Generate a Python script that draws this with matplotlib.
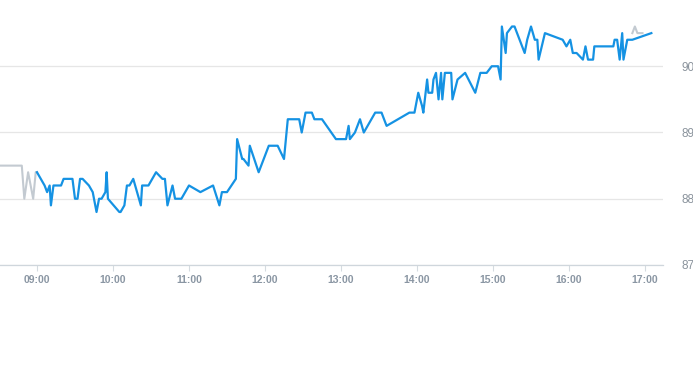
import matplotlib
matplotlib.use('Agg')
import matplotlib.pyplot as plt

# pre-market (grey) prices
pre_times = ['08:25', '08:48', '08:50', '08:53', '08:57', '08:59', '09:00']
pre_prices = [88.5, 88.5, 88.0, 88.4, 88.0, 88.4, 88.4]

# trading session (blue) prices
times = ['09:00', '09:06', '09:08', '09:10', '09:11', '09:13', '09:19', '09:21', '09:28', '09:30',
         '09:32', '09:34', '09:36', '09:41', '09:44', '09:47', '09:49', '09:51', '09:54', '09:55',
         '09:56', '10:05', '10:06', '10:09', '10:11', '10:13', '10:16', '10:22', '10:23', '10:28',
         '10:34', '10:39', '10:41', '10:43', '10:47', '10:49', '10:54', '11:00', '11:09', '11:19',
         '11:24', '11:26', '11:30', '11:37', '11:38', '11:42', '11:43', '11:47', '11:48', '11:55',
         '12:03', '12:10', '12:15', '12:18', '12:27', '12:29', '12:32', '12:37', '12:39', '12:45',
         '12:56', '13:04', '13:06', '13:07', '13:11', '13:15', '13:18', '13:27', '13:32', '13:36',
         '13:54', '13:58', '14:01', '14:04', '14:05', '14:08', '14:09', '14:12', '14:13', '14:15',
         '14:17', '14:19', '14:20', '14:22', '14:27', '14:28', '14:32', '14:38', '14:46', '14:50',
         '14:55', '14:59', '15:04', '15:06', '15:07', '15:10', '15:11', '15:15', '15:17', '15:25',
         '15:27', '15:30', '15:33', '15:35', '15:36', '15:41', '15:55', '15:58', '16:01', '16:03',
         '16:06', '16:11', '16:13', '16:15', '16:19', '16:20', '16:35', '16:36', '16:38', '16:40',
         '16:42', '16:43', '16:46', '16:50', '17:05']
prices = [88.4, 88.2, 88.1, 88.2, 87.9, 88.2, 88.2, 88.3, 88.3, 88.0,
          88.0, 88.3, 88.3, 88.2, 88.1, 87.8, 88.0, 88.0, 88.1, 88.4,
          88.0, 87.8, 87.8, 87.9, 88.2, 88.2, 88.3, 87.9, 88.2, 88.2,
          88.4, 88.3, 88.3, 87.9, 88.2, 88.0, 88.0, 88.2, 88.1, 88.2,
          87.9, 88.1, 88.1, 88.3, 88.9, 88.6, 88.6, 88.5, 88.8, 88.4,
          88.8, 88.8, 88.6, 89.2, 89.2, 89.0, 89.3, 89.3, 89.2, 89.2,
          88.9, 88.9, 89.1, 88.9, 89.0, 89.2, 89.0, 89.3, 89.3, 89.1,
          89.3, 89.3, 89.6, 89.4, 89.3, 89.8, 89.6, 89.6, 89.8, 89.9,
          89.5, 89.9, 89.5, 89.9, 89.9, 89.5, 89.8, 89.9, 89.6, 89.9,
          89.9, 90.0, 90.0, 89.8, 90.6, 90.2, 90.5, 90.6, 90.6, 90.2,
          90.4, 90.6, 90.4, 90.4, 90.1, 90.5, 90.4, 90.3, 90.4, 90.2,
          90.2, 90.1, 90.3, 90.1, 90.1, 90.3, 90.3, 90.4, 90.4, 90.1,
          90.5, 90.1, 90.4, 90.4, 90.5]

# after-hours (grey) prices
post_times = ['16:50', '16:52', '16:54', '16:58']
post_prices = [90.5, 90.6, 90.5, 90.5]

hour_labels = ['09:00', '10:00', '11:00', '12:00', '13:00', '14:00', '15:00', '16:00', '17:00']
y_ticks = [87, 88, 89, 90]


def to_min(t):
    h, m = t.split(':')
    return int(h) * 60 + int(m)


fig = plt.figure(figsize=(6.93, 3.65), dpi=100)
ax = fig.add_axes([0, 0.274, 0.9567, 0.726])

grey = '#c3cad1'
ax.plot([to_min(t) for t in pre_times], pre_prices, color=grey, lw=1.5)
ax.plot([to_min(t) for t in post_times], post_prices, color=grey, lw=1.5)
ax.plot([to_min(t) for t in times], prices, color='#1592e3', lw=1.6)

ax.set_xlim(510.8, 1034.2)
ax.set_ylim(87, 91)

ax.set_xticks([to_min(t) for t in hour_labels])
ax.set_xticklabels(hour_labels, fontsize=7.5, color='#8a96a3', fontweight='bold',
                   family='Liberation Sans')
ax.tick_params(axis='x', length=4, width=0.8, color='#d5dbe0', pad=3)

ax.set_yticks(y_ticks)
ax.set_yticklabels([str(v) for v in y_ticks], fontsize=8.5, color='#8a939c',
                   family='Liberation Sans', va='center_baseline')
ax.yaxis.tick_right()
ax.tick_params(axis='y', length=0, pad=13)
ax.grid(axis='y', color='#e6e6e6', lw=0.9)
ax.set_axisbelow(True)

for s in ['top', 'left', 'right']:
    ax.spines[s].set_visible(False)
ax.spines['bottom'].set_color('#cfd6dc')
ax.spines['bottom'].set_linewidth(0.9)

fig.savefig('out.png', dpi=100)
